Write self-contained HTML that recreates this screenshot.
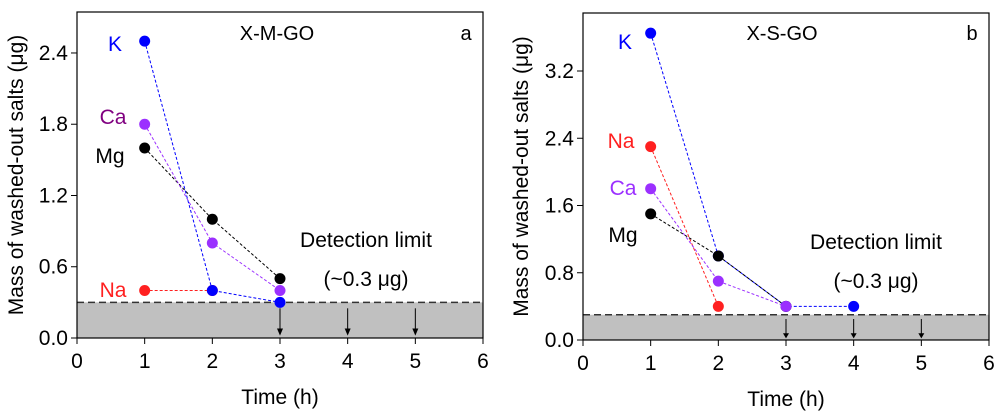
<!DOCTYPE html>
<html><head><meta charset="utf-8"><style>
body{margin:0;background:#fff}
svg{display:block;font-family:"Liberation Sans",Arial,sans-serif}
</style></head><body>
<svg id="chart" width="1000" height="413"></svg>
<script>
const xTicks=[0,1,2,3,4,5,6];
const aYTicks=[0.0,0.6,1.2,1.8,2.4];
const bYTicks=[0.0,0.8,1.6,2.4,3.2];
const aK=[2.5,0.4,0.3];
const aCa=[1.8,0.8,0.4];
const aMg=[1.6,1.0,0.5];
const aNa=[0.4,0.4];
const bK=[3.65,1.0,0.4,0.4];
const bNa=[2.3,0.4];
const bCa=[1.8,0.7,0.4];
const bMg=[1.5,1.0,0.4];
const detLimit=0.3;
const arrowTimesA=[3,4,5];
const arrowTimesB=[3,4,5];
const NS="http://www.w3.org/2000/svg";
const svg=document.getElementById('chart');
function mk(t,at,parent){const e=document.createElementNS(NS,t);for(const k in at)e.setAttribute(k,at[k]);(parent||svg).appendChild(e);return e;}
function panel(cfg){
  const g=mk('g',{});
  
  
  const X=v=>cfg.x0+(cfg.x1-cfg.x0)*v/6;
  const Y=v=>cfg.y0-(cfg.y0-cfg.yt)*v/cfg.ymax;
  const sh=mk('rect',{x:cfg.x0,y:Y(detLimit),width:cfg.x1-cfg.x0,height:cfg.y0-Y(detLimit),fill:'#c0c0c0'},g);
  
  
  const dl=mk('line',{x1:cfg.x0,x2:cfg.x1,y1:Y(detLimit),y2:Y(detLimit),stroke:'#333','stroke-width':1.5,'stroke-dasharray':'7,4'},g);
  
  
  cfg.arrows.forEach(t=>{
    const a=mk('g',{},g);
    
    
    mk('line',{x1:X(t),x2:X(t),y1:Y(0.25),y2:Y(0.04),stroke:'#000','stroke-width':1},a);
    mk('path',{d:`M${X(t)-3},${Y(0.08)} L${X(t)+3},${Y(0.08)} L${X(t)},${Y(0.02)}Z`,fill:'#000'},a);
  });
  const box=mk('rect',{x:cfg.x0,y:cfg.yt,width:cfg.x1-cfg.x0,height:cfg.y0-cfg.yt,fill:'none',stroke:'#000','stroke-width':1.2},g);
  
  
  xTicks.forEach(t=>{
    mk('line',{x1:X(t),x2:X(t),y1:cfg.y0,y2:cfg.y0+6,stroke:'#000'},g);
    const tx=mk('text',{x:X(t),y:cfg.y0+30,'text-anchor':'middle','font-size':21},g);tx.textContent=t;
    
    
  });
  cfg.yTicks.forEach(t=>{
    mk('line',{x1:cfg.x0-6,x2:cfg.x0,y1:Y(t),y2:Y(t),stroke:'#000'},g);
    const tx=mk('text',{x:cfg.x0-9,y:Y(t)+7,'text-anchor':'end','font-size':21},g);tx.textContent=t.toFixed(1);
    
    
  });
  const xt=mk('text',{x:(cfg.x0+cfg.x1)/2,y:cfg.y0+66,'text-anchor':'middle','font-size':21},g);xt.textContent='Time (h)';
  
  
  const yc=(cfg.yt+cfg.y0)/2;
  const yt=mk('text',{x:cfg.ytx,y:yc,'text-anchor':'middle','font-size':21,transform:`rotate(-90 ${cfg.ytx} ${yc})`},g);yt.textContent='Mass of washed-out salts (μg)';
  
  
  cfg.series.forEach(s=>{
    const sg=mk('g',{},g);
    
    
    const pts=s.v.map((v,i)=>X(i+1)+','+Y(v)).join(' ');
    mk('polyline',{points:pts,fill:'none',stroke:s.c,'stroke-width':1,'stroke-dasharray':'3,2'},sg);
    s.v.forEach((v,i)=>{
      const c=mk('circle',{cx:X(i+1),cy:Y(v),r:5.5,fill:s.c},sg);
      
      
    });
    const l=mk('text',{x:s.lx,y:s.ly,'text-anchor':'middle','font-size':21,fill:s.lc||s.c},sg);l.textContent=s.n;
    
    
  });
  const ti=mk('text',{x:cfg.titleX,y:40,'text-anchor':'middle','font-size':20},g);ti.textContent=cfg.title;
  
  
  const pl=mk('text',{x:cfg.x1-17,y:40,'text-anchor':'middle','font-size':20},g);pl.textContent=cfg.letter;
  
  
  const d1=mk('text',{x:cfg.dx,y:cfg.dy,'text-anchor':'middle','font-size':21},g);d1.textContent='Detection limit';
  
  
  const d2=mk('text',{x:cfg.dx,y:cfg.dy+39,'text-anchor':'middle','font-size':21},g);d2.textContent='(~0.3  μg)';
  
  
}
panel({name:'panel-a',x0:77,x1:483,y0:338,yt:12,ymax:2.745,yTicks:aYTicks,arrows:arrowTimesA,ytx:23,title:'X-M-GO',titleX:277,letter:'a',dx:366,dy:247,
  series:[{n:'Na',v:aNa,c:'#ff2020',lx:113,ly:297},{n:'Mg',v:aMg,c:'#000',lx:110,ly:163},{n:'Ca',v:aCa,c:'#9b30ff',lc:'#800080',lx:113,ly:124},{n:'K',v:aK,c:'#0000ff',lx:115,ly:51}]});
panel({name:'panel-b',x0:583,x1:989,y0:340,yt:13,ymax:3.89,yTicks:bYTicks,arrows:arrowTimesB,ytx:528,title:'X-S-GO',titleX:782,letter:'b',dx:876,dy:249,
  series:[{n:'K',v:bK,c:'#0000ff',lx:625,ly:49},{n:'Na',v:bNa,c:'#ff2020',lx:621,ly:148},{n:'Mg',v:bMg,c:'#000',lx:623,ly:242},{n:'Ca',v:bCa,c:'#9b30ff',lx:623,ly:195}]});
</script>
</body></html>
